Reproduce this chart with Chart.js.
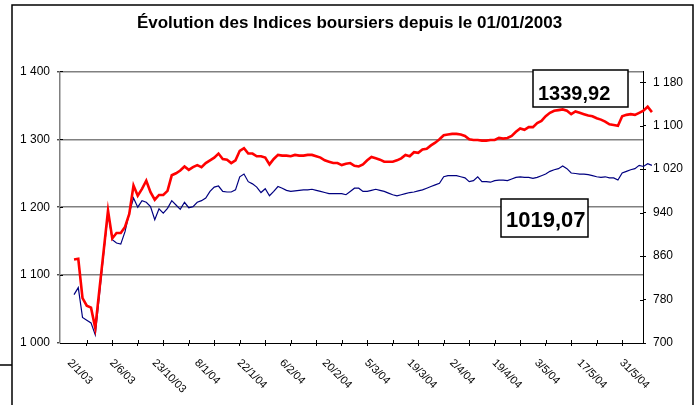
<!DOCTYPE html>
<html>
<head>
<meta charset="utf-8">
<script src="https://cdn.jsdelivr.net/npm/chart.js@4.4.0/dist/chart.umd.min.js"></script>
<style>
  html, body { margin: 0; padding: 0; background: #fff; }
</style>
</head>
<body>
<canvas id="myChart" width="699" height="405"></canvas>
<script>
// date labels, one every 10 sessions (index 0, 10, 20 ...)
const dateLabels = ["2/1/03", "2/6/03", "23/10/03", "8/1/04", "22/1/04", "6/2/04", "20/2/04",
  "5/3/04", "19/3/04", "2/4/04", "19/4/04", "3/5/04", "17/5/04", "31/5/04"];
const labelEvery = 10;
const tickEvery = 6;   // small tick marks on the x axis
const firstTick = 3;

// red index, left axis
const redValues = [1123, 1124, 1066, 1055, 1052, 1022, 1080, 1137, 1195, 1154,
  1162, 1162, 1171, 1190, 1232, 1217, 1227, 1239, 1222, 1211,
  1218, 1218, 1224, 1247, 1250, 1254, 1260, 1255, 1259, 1262,
  1259, 1265, 1269, 1273, 1279, 1271, 1270, 1265, 1269, 1283,
  1287, 1279, 1279, 1275, 1275, 1273, 1263, 1271, 1277, 1276,
  1276, 1275, 1277, 1276, 1276, 1277, 1277, 1275, 1273, 1269,
  1267, 1265, 1265, 1262, 1264, 1265, 1261, 1260, 1263, 1269,
  1274, 1272, 1270, 1267, 1267, 1267, 1269, 1272, 1277, 1275,
  1281, 1280, 1285, 1286, 1291, 1295, 1300, 1306, 1307, 1308,
  1308, 1307, 1305, 1300, 1299, 1299, 1298, 1298, 1299, 1299,
  1302, 1301, 1302, 1305, 1311, 1316, 1314, 1318, 1318, 1324,
  1327, 1334, 1339, 1342, 1343, 1344, 1342, 1337, 1341, 1339,
  1337, 1335, 1334, 1331, 1329, 1326, 1322, 1321, 1320, 1334,
  1336, 1337, 1336, 1339, 1342, 1348, 1340];

// blue index, right axis
const blueValues = [789, 802, 747, 742, 737, 715, 790, 866, 939, 890,
  884, 882, 905, 939, 967, 950, 962, 959, 951, 927,
  947, 939, 948, 962, 954, 946, 959, 949, 951, 959,
  962, 967, 979, 987, 989, 979, 978, 978, 982, 1006,
  1011, 997, 993, 987, 977, 984, 971, 979, 988, 985,
  981, 979, 980, 981, 982, 982, 983, 981, 979, 977,
  975, 975, 975, 975, 973, 979, 985, 985, 979, 979,
  981, 983, 981, 979, 976, 973, 971, 973, 975, 977,
  978, 980, 982, 985, 988, 991, 994, 1006, 1008, 1008,
  1008, 1006, 1004, 997, 999, 1006, 997, 997, 996, 999,
  1000, 1000, 999, 1002, 1005, 1006, 1005, 1005, 1003, 1005,
  1008, 1011, 1016, 1019, 1021, 1026, 1021, 1013, 1012, 1011,
  1011, 1010, 1008, 1006, 1005, 1006, 1004, 1004, 1000, 1013,
  1016, 1019, 1021, 1027, 1025, 1030, 1027];

const leftTicks = [1000, 1100, 1200, 1300, 1400];
const rightTicks = [700, 780, 860, 940, 1020, 1100, 1180];
const redNote = "1339,92";
const blueNote = "1019,07";

const FONT = '"Liberation Sans", Arial, sans-serif';

function fmt(v) {
  return String(v).replace(/\B(?=(\d{3})+(?!\d))/g, " ");
}

const xTicks = [];
for (let i = firstTick; i < redValues.length - 6; i += tickEvery) xTicks.push(i);

// x range: the last sessions run past the right axis, as in the original
const xMin = -3.3, xMax = 133.9;

// frame around the picture
const framePlugin = {
  id: "frame",
  beforeDraw(chart) {
    const c = chart.ctx;
    c.save();
    c.fillStyle = "#fff";
    c.fillRect(0, 0, chart.width, chart.height);
    c.strokeStyle = "#000";
    c.lineWidth = 1.5;
    c.beginPath();
    c.moveTo(12, 410); c.lineTo(12, 5); c.lineTo(693, 5); c.lineTo(693, 410);
    c.moveTo(0, 365); c.lineTo(12, 365);
    c.stroke();
    c.restore();
  }
};

// rotated date labels, inner half of tick marks, and the two value boxes
const extrasPlugin = {
  id: "extras",
  afterDraw(chart) {
    const c = chart.ctx;
    const xs = chart.scales.x, yl = chart.scales.y, yr = chart.scales.y1;
    const area = chart.chartArea;
    c.save();
    c.strokeStyle = "#000";
    c.lineWidth = 1;
    c.beginPath();
    xTicks.forEach(v => {
      const px = Math.round(xs.getPixelForValue(v)) + 0.5;
      c.moveTo(px, area.bottom); c.lineTo(px, area.bottom - 3);
    });
    leftTicks.forEach(v => {
      const py = Math.round(yl.getPixelForValue(v)) + 0.5;
      c.moveTo(area.left, py); c.lineTo(area.left + 3, py);
    });
    rightTicks.forEach(v => {
      const py = Math.round(yr.getPixelForValue(v)) + 0.5;
      c.moveTo(area.right, py); c.lineTo(area.right - 3, py);
    });
    c.stroke();

    c.fillStyle = "#000";
    c.font = "11px " + FONT;
    c.textAlign = "left";
    c.textBaseline = "middle";
    dateLabels.forEach((lab, k) => {
      const px = xs.getPixelForValue(k * labelEvery);
      c.save();
      c.translate(px - 5, area.bottom + 18);
      c.rotate(Math.PI / 4);
      c.fillText(lab, 0, 0);
      c.restore();
    });

    const boxes = [
      { text: redNote, x: 533, y: 70, w: 95, h: 37, size: 20, base: 99.5 },
      { text: blueNote, x: 501, y: 199, w: 87, h: 38, size: 22, base: 227 }
    ];
    boxes.forEach(b => {
      c.fillStyle = "#fff";
      c.fillRect(b.x, b.y, b.w, b.h);
      c.lineWidth = 1.5;
      c.strokeStyle = "#000";
      c.strokeRect(b.x, b.y, b.w, b.h);
      c.fillStyle = "#000";
      c.font = "bold " + b.size + "px " + FONT;
      c.textBaseline = "alphabetic";
      c.fillText(b.text, b.x + 5, b.base);
    });
    c.restore();
  }
};

const ctx = document.getElementById("myChart").getContext("2d");

const chart = new Chart(ctx, {
  type: "line",
  data: {
    datasets: [
      {
        label: "Indice 1",
        data: redValues.map((v, i) => ({ x: i, y: v })),
        yAxisID: "y",
        borderColor: "#ff0000",
        borderWidth: 2.6,
        pointRadius: 0,
        tension: 0,
        fill: false,
        clip: { left: 0, top: 20, right: 20, bottom: 0 }
      },
      {
        label: "Indice 2",
        data: blueValues.map((v, i) => ({ x: i, y: v })),
        yAxisID: "y1",
        borderColor: "#000080",
        borderWidth: 1.2,
        pointRadius: 0,
        tension: 0,
        fill: false,
        clip: { left: 0, top: 20, right: 20, bottom: 0 }
      }
    ]
  },
  options: {
    responsive: false,
    animation: false,
    devicePixelRatio: 1,
    layout: { padding: 0 },
    plugins: {
      legend: { display: false },
      tooltip: { enabled: false },
      title: {
        display: true,
        text: "Évolution des Indices boursiers depuis le 01/01/2003",
        color: "#000",
        font: { family: FONT, size: 17, weight: "bold" },
        padding: { top: 13, bottom: 38 }
      }
    },
    scales: {
      x: {
        type: "linear",
        bounds: "data",
        afterDataLimits: s => { s.min = xMin; s.max = xMax; },
        afterBuildTicks: s => {
          s.ticks = xTicks.map(v => ({ value: v }));
          s.min = xMin;
          s.max = xMax;
        },
        afterFit: s => { s.height = 62; },
        ticks: { display: false },
        grid: { drawOnChartArea: false, tickLength: 3, tickColor: "#000" },
        border: { color: "#000", width: 1 }
      },
      y: {
        position: "left",
        min: 1000,
        max: 1400,
        afterBuildTicks: s => { s.ticks = leftTicks.map(v => ({ value: v })); },
        afterFit: s => { s.width = 60; },
        ticks: { callback: v => fmt(v), color: "#000", padding: 7, font: { family: FONT, size: 12 } },
        grid: {
          color: c => (c.tick && c.tick.value === 1000 ? "rgba(0,0,0,0)" : "#808080"),
          lineWidth: 1.6,
          tickLength: 3,
          tickColor: "#000",
          tickWidth: 1
        },
        border: { color: "#808080", width: 1.5 }
      },
      y1: {
        position: "right",
        min: 700,
        max: 1200,
        afterBuildTicks: s => { s.ticks = rightTicks.map(v => ({ value: v })); },
        afterFit: s => { s.width = 56; },
        ticks: { callback: v => fmt(v), color: "#000", padding: 7, font: { family: FONT, size: 12 } },
        grid: { drawOnChartArea: false, tickLength: 3, tickColor: "#000" },
        border: { color: "#000", width: 1 }
      }
    }
  },
  plugins: [framePlugin, extrasPlugin]
});
</script>
</body>
</html>
